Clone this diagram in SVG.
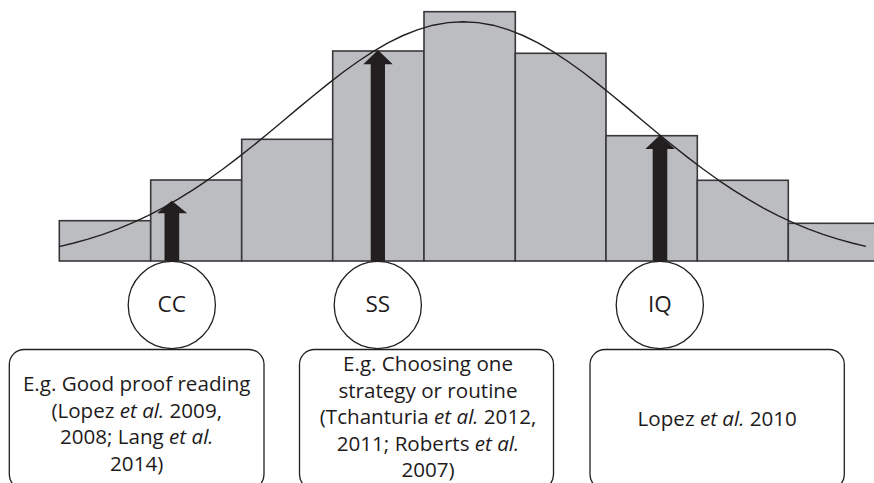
<svg xmlns="http://www.w3.org/2000/svg" width="874" height="483" viewBox="0 0 874 483">
<style>
  .bar { fill: #bcbdc0; stroke: #38383a; stroke-width: 1.6; }
  .curve { fill: none; stroke: #231f20; stroke-width: 1.4; stroke-linejoin: round; }
  .arrow { fill: #231f20; stroke: none; }
  .circ { fill: #ffffff; stroke: #231f20; stroke-width: 1.3; }
  .box { fill: #ffffff; stroke: #231f20; stroke-width: 1.3; }
  .t { font-family: "Open Sans", "Noto Sans", sans-serif; font-size: 20.6px; fill: #1e1b1c; text-anchor: middle; }
  .c { font-size: 22.5px; }
  .i { font-style: italic; }
</style>
<rect width="874" height="483" fill="#ffffff"/>
<g id="histogram">
  <rect class="bar" x="59.3" y="220.7" width="91.4" height="40.3"/>
  <rect class="bar" x="150.7" y="180" width="91" height="81"/>
  <rect class="bar" x="241.7" y="139.3" width="91" height="121.7"/>
  <rect class="bar" x="332.7" y="51" width="91.3" height="210"/>
  <rect class="bar" x="424" y="11.7" width="91.3" height="249.3"/>
  <rect class="bar" x="515.3" y="53.3" width="90.7" height="207.7"/>
  <rect class="bar" x="606" y="135.7" width="91.3" height="125.3"/>
  <rect class="bar" x="697.3" y="180.3" width="91" height="80.7"/>
  <rect class="bar" x="788.3" y="223.3" width="95" height="37.7"/>
</g>
<g id="connectors">
  <polygon class="arrow" points="164.5,261 179.2,261 179.2,213.3 187.2,213.3 171.8,200.7 157.2,213.3 164.5,213.3"/>
  <polygon class="arrow" points="370.7,261 385,261 385,64.3 392.7,64.3 378,50 363.3,64.3 370.7,64.3"/>
  <polygon class="arrow" points="652.7,261 667.3,261 667.3,149 675,149 660,135 645.3,149 652.7,149"/>
</g>
<g id="curve">
  <polyline class="curve" points="59,246.6 73,243.2 88,239.1 103,234.3 118,228.8 133,222.6 148,215.6 163,207.8 178,199.2 193,189.9 208,179.8 223,169.0 238,157.6 253,145.8 268,133.5 283,121.0 298,108.4 313,96.0 328,83.9 343,72.3 358,61.5 373,51.6 388,42.9 403,35.5 418,29.6 433,25.2 448,22.6 463,21.7 478,22.6 493,25.2 508,29.6 523,35.5 538,42.9 553,51.6 568,61.5 583,72.3 598,83.9 613,96.0 628,108.4 643,121.0 658,133.5 673,145.8 688,157.6 703,169.0 718,179.8 733,189.9 748,199.2 763,207.8 778,215.6 793,222.6 808,228.8 823,234.3 838,239.1 853,243.2 866,246.4"/>
</g>
<g id="node-cc">
  <circle class="circ" cx="171.8" cy="305" r="43.6"/>
  <text class="t c" x="171.8" y="312">CC</text>
</g>
<g id="node-ss">
  <circle class="circ" cx="377.8" cy="305" r="43.6"/>
  <text class="t c" x="377.8" y="312">SS</text>
</g>
<g id="node-iq">
  <circle class="circ" cx="659.8" cy="305" r="43.6"/>
  <text class="t c" x="659.8" y="312">IQ</text>
</g>
<g id="box-cc">
  <rect class="box" x="9.3" y="349.5" width="254.7" height="140" rx="15" ry="15"/>
  <text class="t" x="136.7" y="391">E.g. Good proof reading</text>
  <text class="t" x="136.7" y="417.5">(Lopez <tspan class="i">et al.</tspan> 2009,</text>
  <text class="t" x="136.7" y="444">2008; Lang <tspan class="i">et al.</tspan></text>
  <text class="t" x="136.7" y="470.5">2014)</text>
</g>
<g id="box-ss">
  <rect class="box" x="299.5" y="349.5" width="254" height="140" rx="15" ry="15"/>
  <text class="t" x="428" y="371">E.g. Choosing one</text>
  <text class="t" x="428" y="397.5">strategy or routine</text>
  <text class="t" x="428" y="424">(Tchanturia <tspan class="i">et al.</tspan> 2012,</text>
  <text class="t" x="428" y="450.5">2011; Roberts <tspan class="i">et al.</tspan></text>
  <text class="t" x="428" y="477">2007)</text>
</g>
<g id="box-iq">
  <rect class="box" x="590" y="349.5" width="254.3" height="140" rx="15" ry="15"/>
  <text class="t" x="717.2" y="426">Lopez <tspan class="i">et al.</tspan> 2010</text>
</g>
</svg>
